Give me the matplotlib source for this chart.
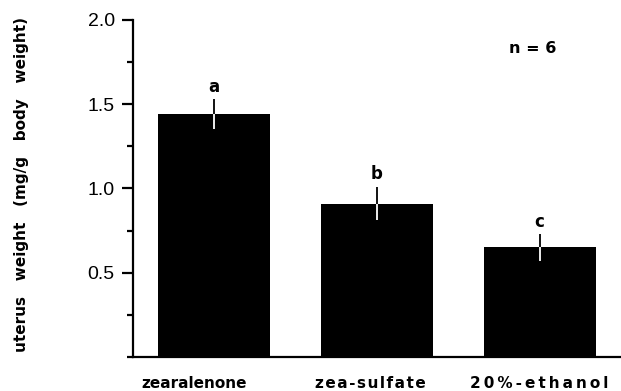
import matplotlib
matplotlib.use('Agg')
import matplotlib.pyplot as plt
from matplotlib.transforms import ScaledTranslation
from matplotlib.ticker import MultipleLocator

treatments = ['zearalenone', 'zea-sulfate', '20%-ethanol']
uterus_weight = [1.44, 0.91, 0.65]
sem = [0.09, 0.10, 0.08]
groups = ['a', 'b', 'c']
n_animals = 6

# letter spacing per label (hair / thin space between glyphs)
tracking = ['', '\u200a', '\u2009']
label_shift = [-20, -7, 0]  # px

fig = plt.figure(figsize=[6.21, 3.91], dpi=100)
ax = fig.add_axes([0.214, 0.087, 0.786, 0.862])

pos = list(range(len(treatments)))
ax.bar(pos, uterus_weight, width=0.69, color='black', zorder=2)

# error bars: white inside the bar, black above it
for x, m, e in zip(pos, uterus_weight, sem):
    ax.vlines(x, m, m + e, color='black', linewidth=1.3, zorder=3)
    ax.vlines(x, m - e, m, color='white', linewidth=1.3, zorder=3)
for x, m, e, g in zip(pos, uterus_weight, sem, groups):
    ax.text(x, m + e + 0.02, g, ha='center', va='bottom',
            fontsize=12, fontweight='bold', family='DejaVu Sans')

ax.text(0.82, 0.915, 'n = %d' % n_animals, transform=ax.transAxes,
        ha='center', va='center', fontsize=11.5, fontweight='bold',
        family='DejaVu Sans')

ax.set_xlim(-0.5, 2.5)
ax.set_ylim(0, 2.0)
ax.yaxis.set_major_locator(MultipleLocator(0.5))
ax.yaxis.set_minor_locator(MultipleLocator(0.25))
ax.set_yticks([0.5, 1.0, 1.5, 2.0])
ax.set_yticklabels(['0.5', '1.0', '1.5', '2.0'], fontsize=14,
                   family='Liberation Sans')
ax.tick_params(axis='y', which='major', direction='out', length=8,
               width=1.6, pad=5)
ax.tick_params(axis='y', which='minor', direction='out', length=4,
               width=1.6)

ax.set_xticks(pos)
ax.set_xticklabels([t.join(s) for t, s in zip(tracking, treatments)],
                   fontsize=11, fontweight='bold', family='DejaVu Sans')
ax.tick_params(axis='x', length=0, pad=14)
for lab, dx in zip(ax.get_xticklabels(), label_shift):
    lab.set_transform(lab.get_transform() +
                      ScaledTranslation(dx / 100, 0, fig.dpi_scale_trans))

for side in ['top', 'right']:
    ax.spines[side].set_visible(False)
for side in ['left', 'bottom']:
    ax.spines[side].set_linewidth(1.6)

fig.text(0.035, 0.527, 'uterus   weight   (mg/g   body   weight)',
         rotation=90, ha='center', va='center', fontsize=11,
         fontweight='bold', family='DejaVu Sans')

plt.savefig('out.png', dpi=100)
